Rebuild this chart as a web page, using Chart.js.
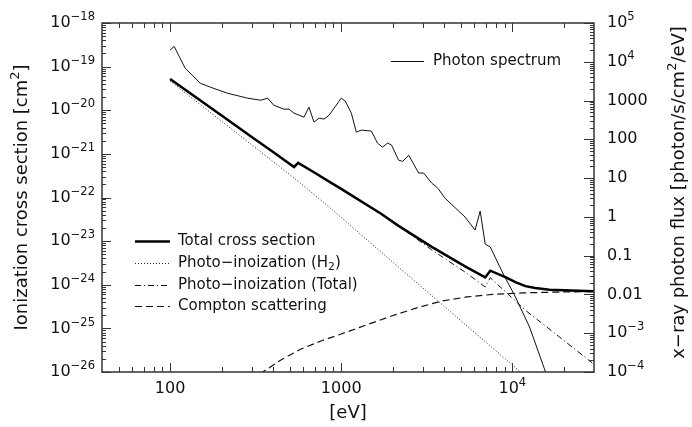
<!DOCTYPE html>
<html lang="en">
<head>
<meta charset="UTF-8">
<title>Ionization cross section and x-ray photon spectrum</title>
<script src="https://cdn.jsdelivr.net/npm/chart.js"></script>
<style>
  html, body { margin: 0; padding: 0; background: #fff; }
</style>
</head>
<body>
<canvas id="xsec" width="692" height="427"></canvas>
<script>
// photon energies in eV, cross sections in cm^2
const totalE     = [100, 200, 300, 400, 530, 560, 700, 874, 1000, 1718, 2163, 3381, 5293, 6940, 7430, 9100, 10420, 11920, 13600, 16500, 22000, 30000];
const totalSigma = [5.2e-20, 7.6e-21, 2.45e-21, 1.1e-21, 5.0e-22, 6.2e-22, 3.7e-22, 2.16e-22, 1.58e-22, 4.2e-23, 2.24e-23, 7.4e-24, 2.63e-24, 1.47e-24, 2.1e-24, 1.5e-24, 1.15e-24, 9.3e-25, 8.45e-25, 7.7e-25, 7.35e-25, 7.1e-25];

const h2E     = [100, 200, 530, 874, 2000, 5000, 10000, 12000];
const h2Sigma = [4.7e-20, 5.6e-21, 2.8e-22, 5.5e-23, 3.3e-24, 1.5e-25, 1.45e-26, 7.8e-27];

const photoE     = [100, 200, 300, 400, 530, 560, 700, 874, 1000, 1718, 2163, 3381, 5293, 6940, 7430, 11920, 18900, 30000];
const photoSigma = [5.2e-20, 7.6e-21, 2.45e-21, 1.1e-21, 5.0e-22, 6.2e-22, 3.7e-22, 2.16e-22, 1.58e-22, 4.2e-23, 2.24e-23, 6.3e-24, 1.95e-24, 8.9e-25, 1.45e-24, 2.6e-25, 6.3e-26, 1.5e-26];

const comptonE     = [295, 348, 444, 582, 762, 1000, 1403, 1968, 2763, 3874, 5433, 7621, 11450, 19680, 30000];
const comptonSigma = [6.6e-27, 1.0e-26, 1.88e-26, 3.37e-26, 5.14e-26, 7.44e-26, 1.2e-25, 1.92e-25, 2.94e-25, 4.25e-25, 5.25e-25, 6.0e-25, 6.5e-25, 6.84e-25, 7.0e-25];

// photon/s/cm^2/eV
const fluxE   = [100, 105.6, 122.5, 136.5, 150, 172, 216, 284, 338, 372, 403, 462, 495, 530, 606, 648, 693, 743, 794, 850,
                 1000, 1056, 1146, 1225, 1311, 1501, 1629, 1742, 1866, 1968, 2164, 2285, 2478, 2836, 3034, 3381, 3669, 4035,
                 5293, 6055, 6486, 6940, 7430, 8735, 10420, 12600, 15630, 17000];
const fluxVal = [2.0e4, 2.5e4, 6800, 4260, 2800, 2210, 1550, 1150, 1020, 1150, 760, 600, 600, 473, 373, 676, 277, 352, 332, 421,
                 1150, 966, 473, 153, 173, 163, 80, 63, 80, 71, 29, 27, 39, 13.5, 13.5, 7.4, 5.5, 3.05,
                 0.99, 0.457, 1.41, 0.199, 0.167, 0.0378, 0.0086, 0.00145, 1e-4, 3.5e-5];

// tick labels as [mantissa, exponent]
const xMajor  = [100, 1000, 1e4];
const xLabels = [['100', ''], ['1000', ''], ['10', '4']];
const sigmaMajor  = [1e-26, 1e-25, 1e-24, 1e-23, 1e-22, 1e-21, 1e-20, 1e-19, 1e-18];
const sigmaLabels = [['10', '−26'], ['10', '−25'], ['10', '−24'], ['10', '−23'], ['10', '−22'], ['10', '−21'], ['10', '−20'], ['10', '−19'], ['10', '−18']];
const fluxMajor  = [1e-4, 1e-3, 0.01, 0.1, 1, 10, 100, 1000, 1e4, 1e5];
const fluxLabels = [['10', '−4'], ['10', '−3'], ['0.01', ''], ['0.1', ''], ['1', ''], ['10', ''], ['100', ''], ['1000', ''], ['10', '4'], ['10', '5']];

const FONT = '"DejaVu Sans", sans-serif';
const INK = '#111';

const pts = (xs, ys) => xs.map((x, i) => ({ x: x, y: ys[i] }));

// draw a run of text pieces; shift 1 = superscript, -1 = subscript
function rich(ctx, parts, x, y, size, align) {
  const sizes = parts.map(p => p[1] ? size * 0.72 : size);
  const widths = parts.map((p, i) => { ctx.font = sizes[i] + 'px ' + FONT; return ctx.measureText(p[0]).width; });
  const total = widths.reduce((a, b) => a + b, 0);
  let cx = align === 'right' ? x - total : align === 'center' ? x - total / 2 : x;
  ctx.textAlign = 'left';
  ctx.textBaseline = 'middle';
  parts.forEach((p, i) => {
    ctx.font = sizes[i] + 'px ' + FONT;
    const dy = p[1] === 1 ? -size * 0.36 : p[1] === -1 ? size * 0.3 : 0;
    ctx.fillText(p[0], cx, y + dy);
    cx += widths[i];
  });
}

function minors(lo, hi) {
  const out = [];
  for (let n = Math.floor(Math.log10(lo)); n <= Math.ceil(Math.log10(hi)); n++) {
    for (let k = 2; k <= 9; k++) {
      const v = k * Math.pow(10, n);
      if (v > lo * 1.0001 && v < hi * 0.9999) out.push(v);
    }
  }
  return out;
}

function labelParts(l) {
  return l[1] ? [[l[0], 0], [l[1], 1]] : [[l[0], 0]];
}

const frame = {
  id: 'frame',
  afterDraw(chart) {
    const ctx = chart.ctx;
    const a = chart.chartArea;
    const sx = chart.scales.x, sy = chart.scales.y, sy2 = chart.scales.y2;
    ctx.save();
    ctx.strokeStyle = '#333';
    ctx.lineWidth = 1.5;
    ctx.strokeRect(a.left, a.top, a.right - a.left, a.bottom - a.top);

    ctx.lineWidth = 1;
    ctx.beginPath();
    // energy axis, bottom and top
    xMajor.forEach(v => {
      const p = Math.round(sx.getPixelForValue(v)) + 0.5;
      ctx.moveTo(p, a.bottom); ctx.lineTo(p, a.bottom - 9);
      ctx.moveTo(p, a.top); ctx.lineTo(p, a.top + 9);
    });
    minors(sx.min, sx.max).forEach(v => {
      const p = Math.round(sx.getPixelForValue(v)) + 0.5;
      ctx.moveTo(p, a.bottom); ctx.lineTo(p, a.bottom - 5);
      ctx.moveTo(p, a.top); ctx.lineTo(p, a.top + 5);
    });
    // cross section axis on the left
    sigmaMajor.forEach(v => {
      const p = Math.round(sy.getPixelForValue(v)) + 0.5;
      ctx.moveTo(a.left, p); ctx.lineTo(a.left + 9, p);
    });
    minors(sy.min, sy.max).forEach(v => {
      const p = Math.round(sy.getPixelForValue(v)) + 0.5;
      ctx.moveTo(a.left, p); ctx.lineTo(a.left + 4, p);
    });
    // flux axis on the right
    fluxMajor.forEach(v => {
      const p = Math.round(sy2.getPixelForValue(v)) + 0.5;
      ctx.moveTo(a.right, p); ctx.lineTo(a.right - 10, p);
    });
    minors(sy2.min, sy2.max).forEach(v => {
      const p = Math.round(sy2.getPixelForValue(v)) + 0.5;
      ctx.moveTo(a.right, p); ctx.lineTo(a.right - 4, p);
    });
    ctx.stroke();

    // tick labels
    ctx.fillStyle = INK;
    xMajor.forEach((v, i) => rich(ctx, labelParts(xLabels[i]), sx.getPixelForValue(v), a.bottom + 17, 16, 'center'));
    sigmaMajor.forEach((v, i) => rich(ctx, labelParts(sigmaLabels[i]), a.left - 7, sy.getPixelForValue(v), 16, 'right'));
    fluxMajor.forEach((v, i) => rich(ctx, labelParts(fluxLabels[i]), a.right + 13, sy2.getPixelForValue(v), 16, 'left'));

    // axis titles
    const midX = (a.left + a.right) / 2, midY = (a.top + a.bottom) / 2;
    rich(ctx, [['[eV]', 0]], midX, a.bottom + 41, 18, 'center');
    ctx.save();
    ctx.translate(22, midY);
    ctx.rotate(-Math.PI / 2);
    rich(ctx, [['Ionization cross section [cm', 0], ['2', 1], [']', 0]], 0, 0, 18, 'center');
    ctx.restore();
    ctx.save();
    ctx.translate(679, midY - 5);
    ctx.rotate(-Math.PI / 2);
    rich(ctx, [['x−ray photon flux [photon/s/cm', 0], ['2', 1], ['/eV]', 0]], 0, 0, 18, 'center');
    ctx.restore();

    // legends
    const entries = [
      { ds: 0, y: 241, parts: [['Total cross section', 0]] },
      { ds: 1, y: 263, parts: [['Photo−inoization (H', 0], ['2', -1], [')', 0]] },
      { ds: 2, y: 285, parts: [['Photo−inoization (Total)', 0]] },
      { ds: 3, y: 306, parts: [['Compton scattering', 0]] }
    ];
    const drawKey = (ds, x0, x1, y) => {
      ctx.save();
      ctx.strokeStyle = ds.borderColor;
      ctx.lineWidth = ds.borderWidth;
      ctx.setLineDash(ds.borderDash || []);
      ctx.beginPath();
      ctx.moveTo(x0, y + 0.5); ctx.lineTo(x1, y + 0.5);
      ctx.stroke();
      ctx.restore();
    };
    entries.forEach(e => {
      drawKey(chart.data.datasets[e.ds], 135, 170, e.y);
      rich(ctx, e.parts, 178, e.y, 15, 'left');
    });
    drawKey(chart.data.datasets[4], 391, 424, 61);
    rich(ctx, [['Photon spectrum', 0]], 433, 61, 15, 'left');
    ctx.restore();
  }
};

new Chart(document.getElementById('xsec'), {
  type: 'line',
  data: {
    datasets: [
      { label: 'Total cross section', data: pts(totalE, totalSigma), yAxisID: 'y', borderColor: '#000', borderWidth: 2.5 },
      { label: 'Photo-inoization (H2)', data: pts(h2E, h2Sigma), yAxisID: 'y', borderColor: '#222', borderWidth: 1, borderDash: [1, 2] },
      { label: 'Photo-inoization (Total)', data: pts(photoE, photoSigma), yAxisID: 'y', borderColor: '#111', borderWidth: 1, borderDash: [6, 3, 1, 3] },
      { label: 'Compton scattering', data: pts(comptonE, comptonSigma), yAxisID: 'y', borderColor: '#111', borderWidth: 1.2, borderDash: [7, 4] },
      { label: 'Photon spectrum', data: pts(fluxE, fluxVal), yAxisID: 'y2', borderColor: '#111', borderWidth: 1 }
    ]
  },
  options: {
    responsive: false,
    animation: false,
    devicePixelRatio: 1,
    layout: { padding: { top: 23, left: 0, right: 0, bottom: 0 } },
    elements: { point: { radius: 0 }, line: { tension: 0, fill: false } },
    plugins: { legend: { display: false }, tooltip: { enabled: false } },
    scales: {
      x: {
        type: 'logarithmic', min: 40, max: 30000,
        ticks: { display: false }, grid: { display: false }, border: { display: false },
        afterFit: s => { s.height = 55; }
      },
      y: {
        type: 'logarithmic', position: 'left', min: 1e-26, max: 1e-18,
        ticks: { display: false }, grid: { display: false }, border: { display: false },
        afterFit: s => { s.width = 102; }
      },
      y2: {
        type: 'logarithmic', position: 'right', min: 1e-4, max: 1e5,
        ticks: { display: false }, grid: { display: false }, border: { display: false },
        afterFit: s => { s.width = 98; }
      }
    }
  },
  plugins: [frame]
});
</script>
</body>
</html>
